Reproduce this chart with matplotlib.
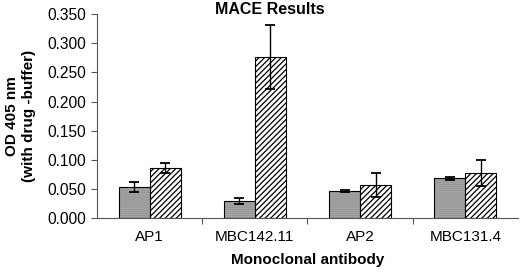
import matplotlib
matplotlib.use("Agg")
import matplotlib.pyplot as plt
import numpy as np

categories = ["AP1", "MBC142.11", "AP2", "MBC131.4"]
gray_vals = [0.053, 0.029, 0.046, 0.068]
gray_err = [0.009, 0.005, 0.002, 0.002]
hatch_vals = [0.086, 0.277, 0.057, 0.077]
hatch_err = [0.008, 0.055, 0.021, 0.022]
yticks = [0.0, 0.05, 0.10, 0.15, 0.20, 0.25, 0.30, 0.35]

plt.rcParams['font.family'] = ['Liberation Sans', 'DejaVu Sans']
plt.rcParams['hatch.linewidth'] = 0.9

fig = plt.figure(figsize=(5.2, 2.77), dpi=100)
ax = fig.add_axes([0.1865, 0.213, 0.8095, 0.736])

x = np.arange(len(categories))
w = 0.295

# gray bars with fine horizontal lines
ax.bar(x - w / 2, gray_vals, w, color='#a8a8a8', edgecolor='none', linewidth=0, zorder=2)
ax.bar(x - w / 2, gray_vals, w, color='none', edgecolor='#989898', hatch='--------', linewidth=0, zorder=2)
ax.bar(x - w / 2, gray_vals, w, color='none', edgecolor='black', linewidth=0.8, zorder=3)
ax.errorbar(x - w / 2, gray_vals, yerr=gray_err, fmt='none', ecolor='black',
            elinewidth=1.0, capsize=3.6, capthick=1.3, zorder=4)

# hatched bars
ax.bar(x + w / 2, hatch_vals, w, color='white', edgecolor='black', hatch='//////', linewidth=0.8, zorder=2)
ax.errorbar(x + w / 2, hatch_vals, yerr=hatch_err, fmt='none', ecolor='black',
            elinewidth=1.0, capsize=3.6, capthick=1.3, zorder=4)

ax.set_xlim(-0.5, len(categories) - 0.5)
ax.set_ylim(0, 0.35)
ax.set_yticks(yticks)
ax.set_yticklabels([f"{v:.3f}" for v in yticks], fontsize=11.2)
ax.set_xticks(np.arange(len(categories) - 1) + 0.5)
ax.set_xticklabels([])
ax.set_xticks(x, minor=True)
ax.set_xticklabels(categories, minor=True, fontsize=11)
ax.tick_params(axis='x', which='minor', length=0, pad=9)
ax.tick_params(axis='x', which='major', length=4, direction='out', width=0.8, color='#555555')
ax.tick_params(axis='y', length=4, direction='out', width=0.8, color='#555555', pad=4)

for s in ['top', 'right']:
    ax.spines[s].set_visible(False)
for s in ['left', 'bottom']:
    ax.spines[s].set_color('#555555')
    ax.spines[s].set_linewidth(0.8)

fig.text(0.519, 1 - 14 / 277, "MACE Results", fontsize=11.5, fontweight='bold',
         ha='center', va='baseline')
ax.set_xlabel("Monoclonal antibody", fontsize=11, fontweight='bold', labelpad=6)
ax.set_ylabel("OD 405 nm\n(with drug -buffer)", fontsize=11, fontweight='bold', labelpad=8, linespacing=1.3)

fig.savefig("out.png", dpi=100)
